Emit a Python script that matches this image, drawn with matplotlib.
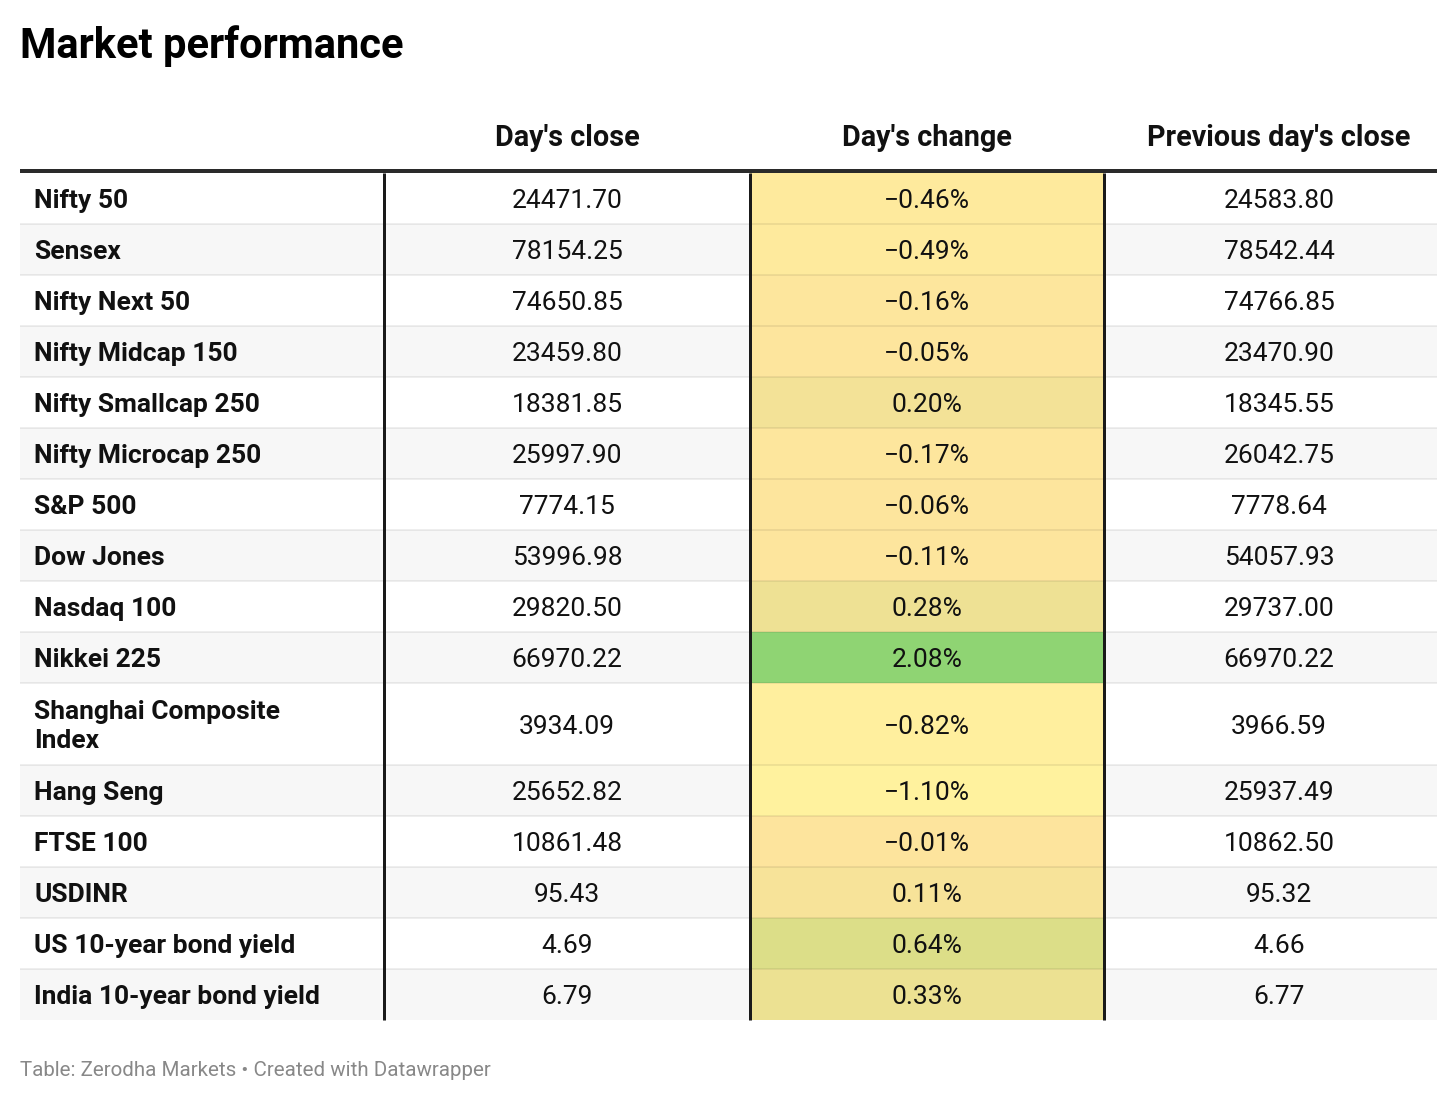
import matplotlib.pyplot as plt
from matplotlib.patches import Rectangle
from matplotlib.colors import LinearSegmentedColormap, Normalize

plt.rcParams['font.family'] = ['Roboto', 'DejaVu Sans']

# Table content
title = 'Market performance'
source = 'Table: Zerodha Markets \u2022 Created with Datawrapper'
headers = ["Day's close", "Day's change", "Previous day's close"]
names = ['Nifty 50', 'Sensex', 'Nifty Next 50', 'Nifty Midcap 150', 'Nifty Smallcap 250',
         'Nifty Microcap 250', 'S&P 500', 'Dow Jones', 'Nasdaq 100', 'Nikkei 225',
         'Shanghai Composite\nIndex', 'Hang Seng', 'FTSE 100', 'USDINR',
         'US 10-year bond yield', 'India 10-year bond yield']
day_close = [24471.70, 78154.25, 74650.85, 23459.80, 18381.85, 25997.90, 7774.15, 53996.98,
             29820.50, 66970.22, 3934.09, 25652.82, 10861.48, 95.43, 4.69, 6.79]
day_change = [-0.46, -0.49, -0.16, -0.05, 0.20, -0.17, -0.06, -0.11,
              0.28, 2.08, -0.82, -1.10, -0.01, 0.11, 0.64, 0.33]
prev_close = [24583.80, 78542.44, 74766.85, 23470.90, 18345.55, 26042.75, 7778.64, 54057.93,
              29737.00, 66970.22, 3966.59, 25937.49, 10862.50, 95.32, 4.66, 6.77]

# colour scale for the change column
vmin, vmax = min(day_change), max(day_change)
norm = Normalize(vmin, vmax)
cmap = LinearSegmentedColormap.from_list('chg', [
    (0.0, '#fff29e'),
    (norm(0.0), '#fde49d'),
    (norm(0.64), '#dcde88'),
    (1.0, '#8fd473'),
])

W, H = 1456, 1101
fig = plt.figure(figsize=(W / 100, H / 100), dpi=100)
ax = fig.add_axes([0, 0, 1, 1])
ax.set_xlim(0, W)
ax.set_ylim(H, 0)
ax.axis('off')

px = 0.72  # pixels -> points
left, right = 20, 1437
col_edges = [384, 750, 1104]
col_centers = [567, 927, 1279]
top = 173
row_h = [82 if '\n' in n else 51 for n in names]

ax.text(left, 58, title, fontsize=30, fontweight='bold', va='baseline', ha='left', color='#000000')

for x, h in zip(col_centers, headers):
    ax.text(x, 138.5, h, fontsize=20.7, fontweight='bold', ha='center', va='center', color='#111111')

y = top
row_tops = []
for i, h in enumerate(row_h):
    row_tops.append(y)
    bg = '#ffffff' if i % 2 == 0 else '#f7f7f7'
    ax.add_patch(Rectangle((left, y), right - left, h, facecolor=bg, edgecolor='none', zorder=1))
    ax.add_patch(Rectangle((col_edges[1], y), col_edges[2] - col_edges[1], h,
                           facecolor=cmap(norm(day_change[i])), edgecolor='none', zorder=2))
    yc = y + h / 2 + 2.5
    ax.text(34, yc, names[i], fontsize=19, fontweight='bold', ha='left', va='center',
            linespacing=1.3, color='#111111', zorder=5)
    ax.text(col_centers[0], yc, f'{day_close[i]:.2f}', fontsize=19, ha='center', va='center',
            color='#111111', zorder=5)
    ax.text(col_centers[1], yc, f'{day_change[i]:.2f}%'.replace('-', '\u2212'), fontsize=19,
            ha='center', va='center', color='#111111', zorder=5)
    ax.text(col_centers[2], yc, f'{prev_close[i]:.2f}', fontsize=19, ha='center', va='center',
            color='#111111', zorder=5)
    y += h
bottom = y

# row separators
for yt in row_tops[1:]:
    ax.plot([left, right], [yt, yt], color=(0, 0, 0, 0.09), lw=1.5 * px, zorder=3,
            solid_capstyle='butt')

# column rules
for xe in col_edges:
    ax.plot([xe, xe], [top, bottom], color='#1a1a1a', lw=3 * px, zorder=4, solid_capstyle='butt')

# header rule
ax.plot([left, right], [170.5, 170.5], color='#2a2a2a', lw=4 * px, zorder=4, solid_capstyle='butt')

ax.text(left, 1070.5, source, fontsize=14.8, color='#888888', ha='left', va='center')

plt.savefig('out.png', dpi=100)
